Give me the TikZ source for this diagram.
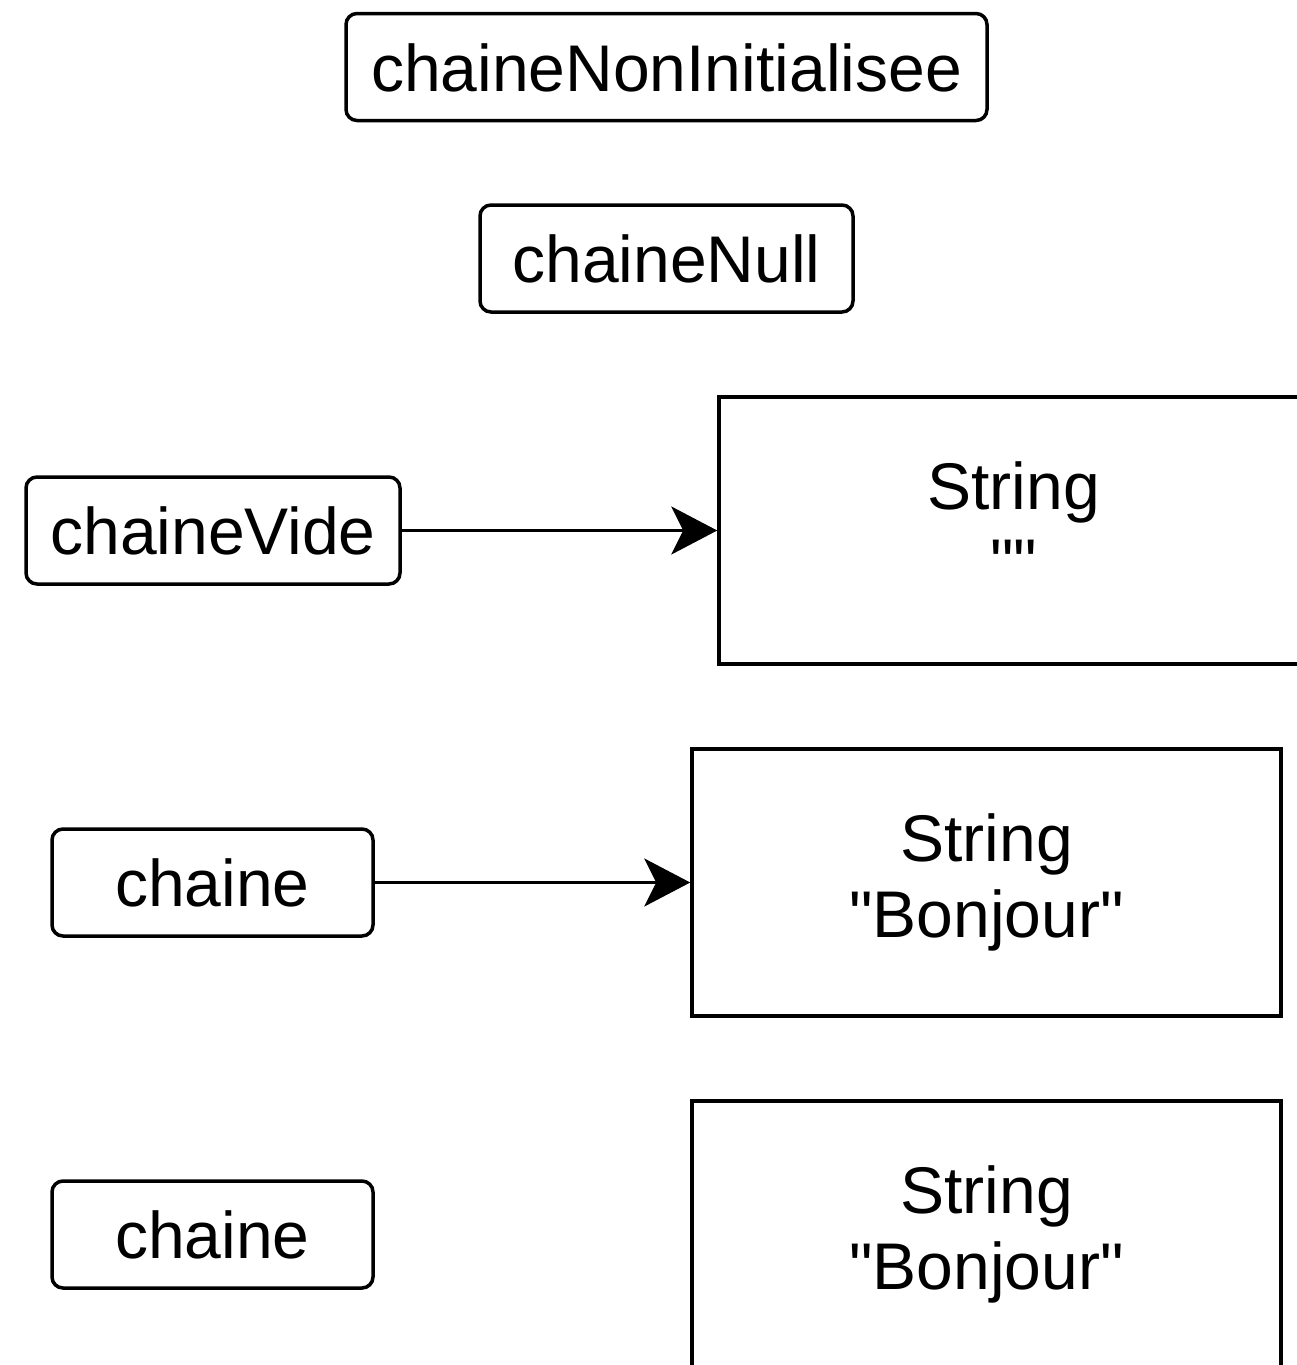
\documentclass[tikz,border=0pt]{standalone}
\usepackage{fontspec}
% plain family without TeX ligatures, so " stays a straight quote
\newfontfamily\labelfont{Liberation Sans}
\usetikzlibrary{arrows.meta}
% strut that keeps the two lines of an object box evenly placed
\newcommand\lnstrut{\rule[-14pt]{0pt}{58pt}}
\begin{document}
\begin{tikzpicture}[x=1pt,y=-1pt,
  every node/.style={font=\labelfont\fontsize{66}{76}\selectfont, inner sep=0pt, line width=3.5pt},
  var/.style={draw, rounded corners=11pt, minimum height=107pt,
              text height=48pt, text depth=0pt},
  obj/.style={draw, minimum width=589pt, minimum height=267pt, align=center},
  ref/.style={line width=3.5pt, -{Stealth[length=46pt,width=48pt,inset=12pt]}}]
  \clip (0,0) rectangle (1297,1365);

  % variables
  \node[var, minimum width=641pt] (nonInit) at (666.5,67)    {chaineNonInitialisee};
  \node[var, minimum width=373pt] (null)    at (666.5,258.5) {chaineNull};
  \node[var, minimum width=374pt] (vide)    at (213,530.5)   {chaineVide};
  \node[var, minimum width=321pt] (ch1)     at (212.5,882.5) {chaine};
  \node[var, minimum width=321pt] (ch2)     at (212.5,1234.5){chaine};

  % String objects
  \node[obj] (strVide)     at (1013.5,530.5) {\lnstrut String\\\lnstrut""};
  \node[obj] (strBonjour)  at (986.5,882.5)  {\lnstrut String\\\lnstrut"Bonjour"};
  \node[obj] (strBonjour2) at (986.5,1234.5) {\lnstrut String\\\lnstrut"Bonjour"};

  % references
  \draw[ref] (vide.east) -- (strVide.west);
  \draw[ref] (ch1.east) -- (strBonjour.west);
\end{tikzpicture}
\end{document}
